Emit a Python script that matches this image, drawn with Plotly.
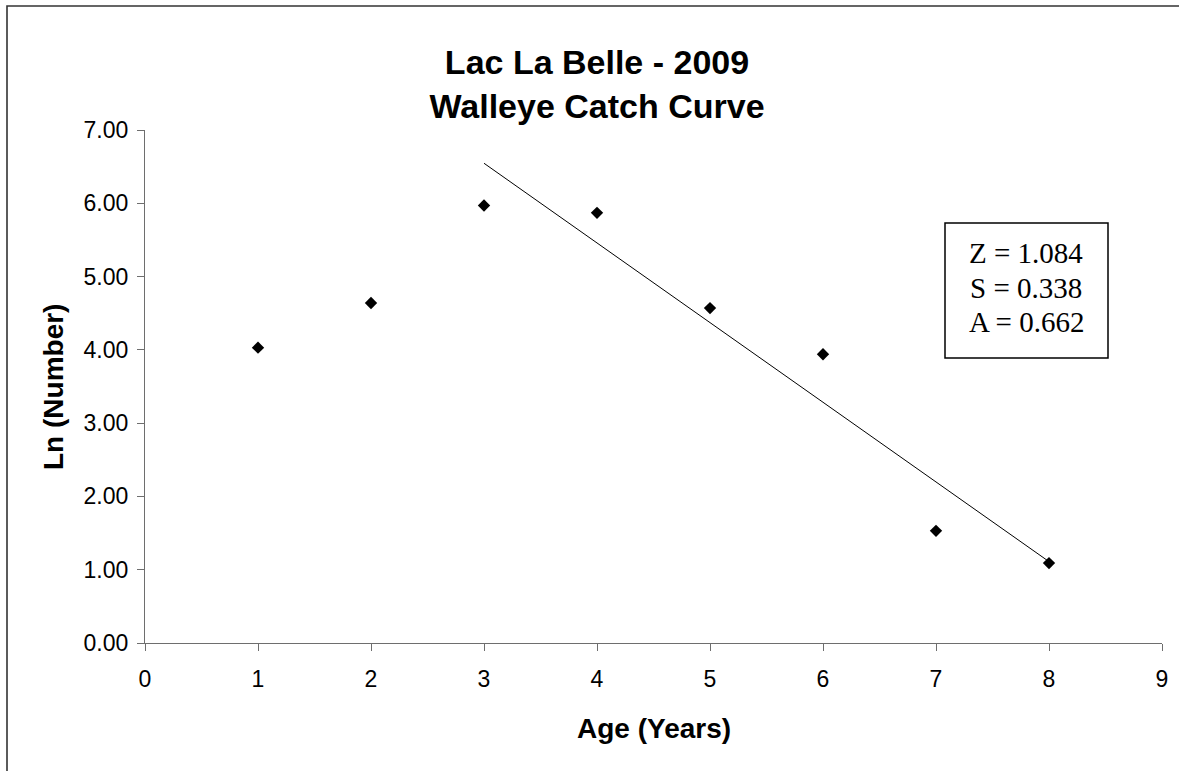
import numpy as np
import plotly.graph_objects as go

# ---- data ----
ages = [1, 2, 3, 4, 5, 6, 7, 8]
ln_number = [4.03, 4.64, 5.97, 5.87, 4.57, 3.94, 1.53, 1.09]
fit_ages = [3, 4, 5, 6, 7, 8]          # ages used for the catch-curve regression
stats_lines = ["Z = 1.084", "S = 0.338", "A = 0.662"]
title_lines = ["Lac La Belle - 2009", "Walleye Catch Curve"]
x_title = "Age (Years)"
y_title = "Ln (Number)"
x_ticks = list(range(0, 10))
y_ticks = [0, 1, 2, 3, 4, 5, 6, 7]

# regression line over the descending limb
fit_y = [ln_number[ages.index(a)] for a in fit_ages]
slope, intercept = np.polyfit(fit_ages, fit_y, 1)
trend_x = [fit_ages[0], fit_ages[-1]]
trend_y = [slope * a + intercept for a in trend_x]

W, H = 1179, 771
L, R, T, B = 145, 17, 130, 128
pw, ph = W - L - R, H - T - B

def px2paper_x(px):
    return (px - L) / pw

def px2paper_y(py):
    return (H - B - py) / ph

SANS = "Liberation Sans, Arial, sans-serif"
SERIF = "Liberation Serif, Times New Roman, serif"

fig = go.Figure()
fig.add_trace(go.Scatter(
    x=trend_x, y=trend_y, mode="lines",
    line=dict(color="black", width=1),
    showlegend=False, hoverinfo="skip"))
fig.add_trace(go.Scatter(
    x=ages, y=ln_number, mode="markers",
    marker=dict(symbol="diamond", size=9.5, color="black"),
    showlegend=False, cliponaxis=False))

axis_common = dict(
    showgrid=False, zeroline=False, showline=True,
    linecolor="#6e6e6e", linewidth=1.3,
    ticks="outside", ticklen=7, tickwidth=1.3, tickcolor="#6e6e6e",
    tickfont=dict(family=SANS, size=23, color="black"),
)

fig.update_xaxes(range=[0, 9], tickvals=x_ticks, ticktext=[str(v) for v in x_ticks],
                 ticklabelstandoff=8, **axis_common)
fig.update_yaxes(range=[0, 7], tickvals=y_ticks, ticktext=[f"{v:.2f}" for v in y_ticks],
                 ticklabelstandoff=4, **axis_common)

# axis titles
fig.add_annotation(xref="paper", yref="paper", x=0.5, y=px2paper_y(728),
                   text=x_title, showarrow=False, xanchor="center", yanchor="middle",
                   font=dict(family=SANS, size=28, color="black", weight="bold"))
fig.add_annotation(xref="paper", yref="paper", x=px2paper_x(53), y=px2paper_y(387),
                   text=y_title, showarrow=False, xanchor="center", yanchor="middle",
                   textangle=-90,
                   font=dict(family=SANS, size=28, color="black", weight="bold"))

# stats box
fig.add_shape(type="rect", xref="paper", yref="paper",
              x0=px2paper_x(945), x1=px2paper_x(1108),
              y0=px2paper_y(358), y1=px2paper_y(223),
              line=dict(color="black", width=1.5), fillcolor="white", layer="above")
for i, txt in enumerate(stats_lines):
    fig.add_annotation(xref="paper", yref="paper",
                       x=px2paper_x(1026), y=px2paper_y(253 + 34.5 * i),
                       text=txt, showarrow=False, xanchor="center", yanchor="middle",
                       font=dict(family=SERIF, size=29, color="black"))

# outer chart border (left and top edges visible; extends past right/bottom)
fig.add_shape(type="rect", xref="paper", yref="paper",
              x0=px2paper_x(7), x1=px2paper_x(W + 20),
              y0=px2paper_y(H + 20), y1=px2paper_y(6),
              line=dict(color="#333333", width=1.6), fillcolor="rgba(0,0,0,0)", layer="below")

fig.update_layout(
    width=W, height=H,
    margin=dict(l=L, r=R, t=T, b=B, pad=0),
    paper_bgcolor="white", plot_bgcolor="white",
    title=dict(text="<br>".join(title_lines), xref="container", yref="container",
               x=597 / W, xanchor="center", y=1 - 74 / H, yanchor="middle",
               font=dict(family=SANS, size=34, color="black", weight="bold")),
    showlegend=False,
)

fig.write_html("out.html")
